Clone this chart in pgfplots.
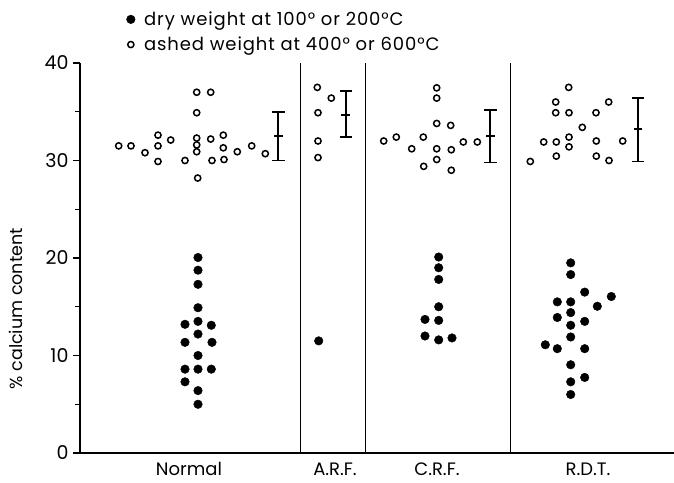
\documentclass[border=0pt]{standalone}
\usepackage{fontspec}
\setmainfont{Poppins}
\newfontfamily\legendfont[LetterSpace=5]{Poppins}
\usepackage{pgfplots}
\pgfplotsset{compat=1.18}
\begin{document}
\begin{tikzpicture}
\path[use as bounding box] (-80pt,-29pt) rectangle (594pt,453pt);
\begin{axis}[
  at={(0,0)}, anchor=south west,
  scale only axis, width=594pt, height=390pt,
  xmin=80, xmax=674, ymin=0, ymax=40,
  axis x line=bottom, axis y line=left,
  axis line style={-, line width=1.3pt},
  tick align=outside,
  ytick={0,10,20,30,40}, minor ytick={5,15,25,35},
  major tick length=7pt, minor tick length=5pt,
  tick style={black, line width=1.1pt},
  xtick={189,335,437,588},
  xticklabels={Normal, A.R.F., C.R.F., R.D.T.},
  x tick style={draw=none},
  xticklabel style={font=\fontsize{18}{20}\selectfont, yshift=1pt},
  yticklabel style={font=\fontsize{19}{21}\selectfont, xshift=-1pt},
  /pgf/number format/assume math mode=true,
  ylabel={\% calcium content},
  ylabel style={at={(axis description cs:-0.108,0.37)}, anchor=center, font=\fontsize{17.5}{19}\selectfont},
  legend style={at={(axis description cs:0.078,1.137)}, anchor=north west, draw=none, fill=none,
    font=\legendfont\fontsize{18}{20}\selectfont, row sep=6pt, column sep=7pt, inner sep=0pt},
  legend cell align=left,
  clip=false,
]
% separators
\addplot[black, line width=0.9pt, forget plot] coordinates {(300,0) (300,40)};
\addplot[black, line width=0.9pt, forget plot] coordinates {(365,0) (365,40)};
\addplot[black, line width=0.9pt, forget plot] coordinates {(510,0) (510,40)};
% Normal
\addplot[only marks, mark=*, mark size=4.3pt, black] coordinates {
(198,20.05) (198,18.75) (198,17.3) (198,14.9) (185,13.2) (198,13.5) (211.3,13.1) (198,12.2)
(185,11.35) (212,11.35) (198,10.0) (185,8.6) (198,8.6) (211.3,8.6) (185,7.3) (198,6.4) (198,5.0)};
\addlegendentry{dry weight at 100° or 200°C}
\addplot[only marks, mark=o, mark size=3.1pt, black, mark options={line width=1.5pt}] coordinates {
(118.7,31.5) (131,31.5) (145,30.8) (158,32.6) (158,31.5) (158,29.9) (170.7,32.1) (185,30.0)
(196.7,37.0) (210.7,37.0) (196.7,34.9) (196.7,32.3) (196.7,31.6) (196.7,30.9) (197.7,28.2)
(210.7,32.2) (212,30.0) (223.3,32.6) (223.3,31.3) (224,30.1) (237.3,30.9) (251.7,31.5) (265.3,30.7)};
\addlegendentry{ashed weight at 400° or 600°C}
% A.R.F.
\addplot[only marks, mark=*, mark size=4.3pt, black, forget plot] coordinates {(318.7,11.5)};
\addplot[only marks, mark=o, mark size=3.1pt, black, mark options={line width=1.5pt}, forget plot] coordinates {
(317.3,37.5) (331.3,36.4) (318,34.9) (318,32.0) (318,30.3)};
% C.R.F.
\addplot[only marks, mark=*, mark size=4.3pt, black, forget plot] coordinates {
(438.7,20.1) (438.7,19.0) (438.7,17.8) (438.7,15.0) (425,13.7) (438.7,13.6) (425,12.0) (438.7,11.6) (452,11.8)};
\addplot[only marks, mark=o, mark size=3.1pt, black, mark options={line width=1.5pt}, forget plot] coordinates {
(383.7,32.0) (396.3,32.4) (411.7,31.2) (423.3,32.4) (423.7,29.4) (436.7,37.45) (436.7,36.4)
(436.7,33.8) (436.7,31.2) (436.7,30.1) (450.7,33.6) (451.3,31.1) (451.3,29.0) (463.3,31.9) (477.3,31.9)};
% R.D.T.
\addplot[only marks, mark=*, mark size=4.3pt, black, forget plot] coordinates {
(570.7,19.5) (570.7,18.3) (584.7,16.5) (611.3,16.05) (557.3,15.5) (570.7,15.5) (597.3,15.05)
(570.7,14.4) (557.3,13.9) (584.7,13.5) (570.7,13.1) (570.7,11.9) (545.3,11.1) (557.3,10.7)
(584.7,10.7) (570.7,9.05) (584.7,7.75) (570.7,7.3) (570.7,6.0)};
\addplot[only marks, mark=o, mark size=3.1pt, black, mark options={line width=1.5pt}, forget plot] coordinates {
(568.7,37.5) (555.7,36.0) (555.7,34.9) (569,34.9) (608.7,36.0) (596,34.9) (582.3,33.4)
(543.7,31.9) (556.3,31.9) (569,32.4) (569,31.4) (596.3,32.0) (622.7,32.0) (556.3,30.45)
(596.3,30.45) (609,30.0) (530.3,29.9)};
% error bars (mean and range)
\addplot[only marks, black, mark=-, mark size=4.3pt, mark options={line width=1.8pt}, forget plot,
  error bars/.cd, y dir=both, y explicit,
  error bar style={line width=1.8pt},
  error mark=|,
  error mark options={mark size=6.2pt, line width=1.8pt}]
  coordinates {
  (278.3,32.5) += (0,2.45) -= (0,2.5)
  (345.7,34.7) += (0,2.4) -= (0,2.3)
  (490.3,32.5) += (0,2.7) -= (0,2.7)
  (638,33.2) += (0,3.25) -= (0,3.3)
  };
\end{axis}
\end{tikzpicture}
\end{document}
